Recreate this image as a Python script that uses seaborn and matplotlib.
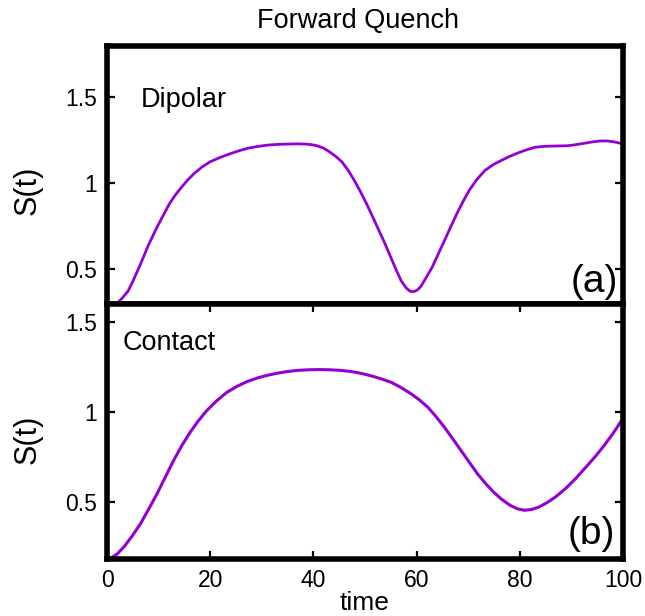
import matplotlib
matplotlib.use("Agg")
import matplotlib.pyplot as plt
import seaborn as sns
import pandas as pd

# S(t) after a forward quench, dipolar interaction (panel a)
t_dipolar = [0.0, 1.0, 2.1, 3.0, 4.1, 5.0, 6.5, 8.0, 9.7, 11.0, 12.1, 13.3, 14.5,
             15.7, 16.9, 18.4, 20.0, 22.0, 24.0, 25.6, 27.2, 29.2, 31.2, 33.2,
             35.2, 37.0, 38.3, 39.5, 40.7, 42.0, 43.1, 44.3, 45.5, 46.7, 47.9,
             49.1, 50.3, 51.5, 52.7, 53.9, 55.0, 56.0, 57.0, 58.0, 58.6, 59.0,
             59.6, 60.2, 60.8, 61.8, 63.0, 64.2, 65.4, 66.6, 67.8, 69.0, 70.2,
             71.7, 73.3, 74.9, 76.5, 78.1, 79.7, 81.3, 82.9, 84.5, 86.1, 87.7,
             89.2, 90.8, 92.4, 94.0, 95.6, 96.8, 98.0, 99.0, 100.0]
s_dipolar = [0.22, 0.26, 0.307, 0.335, 0.375, 0.43, 0.531, 0.64, 0.746, 0.82,
             0.882, 0.935, 0.980, 1.022, 1.058, 1.095, 1.126, 1.152, 1.174, 1.19,
             1.204, 1.215, 1.223, 1.227, 1.229, 1.230, 1.229, 1.226, 1.219, 1.205,
             1.184, 1.158, 1.126, 1.078, 1.019, 0.953, 0.882, 0.805, 0.726, 0.648,
             0.570, 0.50, 0.434, 0.392, 0.376, 0.371, 0.372, 0.382, 0.400, 0.45,
             0.512, 0.590, 0.668, 0.747, 0.824, 0.895, 0.960, 1.024, 1.077, 1.110,
             1.135, 1.158, 1.178, 1.195, 1.210, 1.215, 1.217, 1.218, 1.219, 1.225,
             1.233, 1.241, 1.247, 1.247, 1.243, 1.237, 1.230]

# S(t) after a forward quench, contact interaction (panel b)
t_contact = [0.0, 0.6, 2.0, 3.3, 4.9, 6.5, 8.1, 9.7, 11.3, 12.9, 14.5, 16.1, 17.7,
             19.3, 21.2, 23.2, 25.2, 27.2, 29.2, 31.2, 33.2, 35.2, 37.1, 39.1,
             41.1, 43.1, 45.1, 47.1, 49.1, 51.1, 53.1, 55.1, 57.0, 59.0, 60.6,
             62.2, 63.8, 65.4, 67.0, 68.6, 70.2, 71.8, 73.4, 74.9, 76.5, 78.1,
             79.5, 80.9, 82.3, 83.7, 85.3, 86.9, 88.9, 90.8, 92.8, 94.8, 96.4,
             98.0, 99.0, 100.0]
s_contact = [0.18, 0.184, 0.21, 0.249, 0.31, 0.378, 0.46, 0.544, 0.637, 0.729,
             0.812, 0.886, 0.950, 1.006, 1.06, 1.108, 1.142, 1.169, 1.189, 1.204,
             1.216, 1.225, 1.231, 1.234, 1.235, 1.234, 1.231, 1.225, 1.215, 1.201,
             1.184, 1.164, 1.135, 1.099, 1.065, 1.025, 0.972, 0.914, 0.850, 0.785,
             0.720, 0.655, 0.600, 0.554, 0.513, 0.480, 0.461, 0.452, 0.457, 0.470,
             0.495, 0.526, 0.574, 0.628, 0.692, 0.757, 0.815, 0.877, 0.92, 0.965]

x_ticks = [0, 20, 40, 60, 80, 100]
y_ticks = [0.5, 1.0, 1.5]
y_tick_labels = ["0.5", "1", "1.5"]

panel_names = ["Dipolar", "Contact"]
panel_tags = ["(a)", "(b)"]

sns.set_theme(style="white")
plt.rcParams["font.family"] = ["Liberation Sans", "DejaVu Sans"]
plt.rcParams["text.color"] = "black"
plt.rcParams["axes.labelcolor"] = "black"
plt.rcParams["xtick.color"] = "black"
plt.rcParams["ytick.color"] = "black"

LINE = "#9400D3"
FRAME_W = 4.0

fig = plt.figure(figsize=(6.45, 6.16), dpi=100)
ax_a = fig.add_axes([0.1659, 0.5068, 0.800, 0.4188])
ax_b = fig.add_axes([0.1659, 0.0922, 0.800, 0.4143])

df_a = pd.DataFrame({"time": t_dipolar, "S": s_dipolar})
df_b = pd.DataFrame({"time": t_contact, "S": s_contact})

sns.lineplot(data=df_a, x="time", y="S", ax=ax_a, color=LINE, linewidth=2.0,
             sort=False, estimator=None)
sns.lineplot(data=df_b, x="time", y="S", ax=ax_b, color=LINE, linewidth=2.2,
             sort=False, estimator=None)

ax_a.set_ylim(0.3, 1.8)
ax_b.set_ylim(0.18, 1.6)

for ax in (ax_a, ax_b):
    ax.set_xlim(0, 100)
    ax.set_xticks(x_ticks)
    ax.set_yticks(y_ticks)
    ax.set_yticklabels(y_tick_labels)
    for sp in ax.spines.values():
        sp.set_visible(True)
        sp.set_linewidth(FRAME_W)
        sp.set_color("black")
    ax.tick_params(axis="both", direction="in", length=6, width=1.6,
                   color="black", labelsize=16.5, pad=7,
                   left=True, right=True, labelcolor="black")
    ax.set_facecolor("white")

ax_a.tick_params(axis="x", bottom=False, top=False, labelbottom=False)
ax_b.tick_params(axis="x", bottom=True, top=True, labelbottom=True)

ax_a.set_xlabel("")
ax_b.set_xlabel("time", fontsize=19, va="baseline", color="black")
ax_b.xaxis.set_label_coords(0.5, -0.199)

ax_a.set_ylabel("S(t)", fontsize=22, va="center", color="black")
ax_a.yaxis.set_label_coords(-0.153, 0.44)
ax_b.set_ylabel("S(t)", fontsize=22, va="center", color="black")
ax_b.yaxis.set_label_coords(-0.153, 0.47)

ax_a.text(0.065, 0.761, panel_names[0], transform=ax_a.transAxes,
          fontsize=19.5, ha="left", va="baseline", color="black")
ax_b.text(0.031, 0.82, panel_names[1], transform=ax_b.transAxes,
          fontsize=19.5, ha="left", va="baseline", color="black")

ax_a.text(0.99, 0.045, panel_tags[0], transform=ax_a.transAxes,
          fontsize=28, ha="right", va="baseline", color="black")
ax_b.text(0.985, 0.06, panel_tags[1], transform=ax_b.transAxes,
          fontsize=28, ha="right", va="baseline", color="black")

fig.text(0.5546, 0.954, "Forward Quench", fontsize=19.5,
         ha="center", va="baseline", color="black")

fig.savefig("out.png", dpi=100, facecolor="white")
